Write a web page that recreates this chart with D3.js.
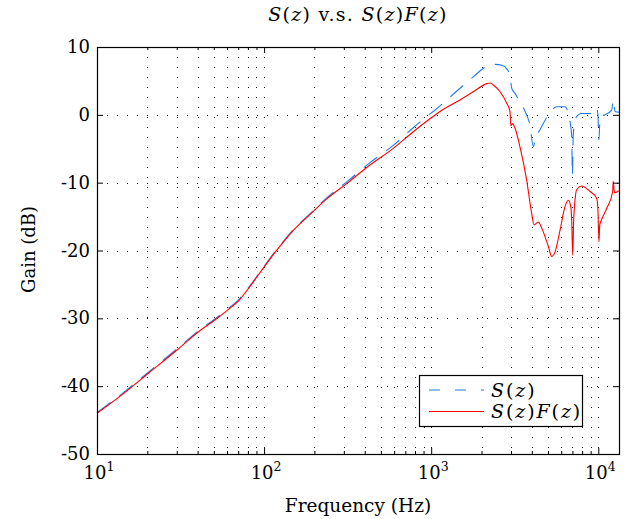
<!DOCTYPE html>
<html>
<head>
<meta charset="utf-8">
<script src="https://cdn.jsdelivr.net/npm/d3@7"></script>
<style>
  body { margin: 0; background: #fff; }
  svg { font-family: "DejaVu Serif", "Liberation Serif", serif; }
</style>
</head>
<body>
<svg></svg>
<script>
// S(z): frequency (Hz) and gain (dB)
const freqS = [10, 14.4, 20.3, 30, 41.4, 50.8, 59.7, 71.7, 82.3, 98.9, 113.5, 130, 150, 188, 237, 319, 430, 593, 781,
  961, 1029, 1239, 1452, 1786, 2099, 2354, 2652, 2850, 2966, 3035, 3166, 3396, 3724, 3900, 4085, 4200, 4480, 5025,
  5640, 6325, 6620, 6775, 6935, 7000, 7080, 7300, 7950, 9330, 9780, 9950, 10090, 10250, 10960, 12020, 12300, 12590, 13300];
const gainS = [-43.9, -40.95, -37.95, -34.55, -31.65, -30.1, -28.75, -27.05, -25.2, -22.5, -20.5, -18.7, -16.9, -14.6, -12.25, -9.7, -7.05, -4.5, -1.9,
  -0.05, 0.5, 2.2, 3.7, 5.6, 7.0, 7.45, 7.3, 6.7, 5.6, 3.9, 3.2, 1.9, 0.0, -1.5, -4.7, -3.5, -2.2, 0.0,
  1.2, 1.2, 0.2, -1.0, -3.2, -8.9, -3.0, -0.5, 0.2, 0.2, 1.0, 0.0, -3.7, -0.3, 0.0, 0.7, 2.2, 0.5, 0.4];

// S(z)F(z): frequency (Hz) and gain (dB)
const freqSF = [10, 14.4, 20.3, 30, 41.4, 50.8, 59.7, 71.7, 82.3, 98.9, 113.5, 130, 150, 188, 237, 319, 430, 593, 781,
  961, 1129, 1486, 1786, 2148, 2250, 2354, 2582, 2832, 2960, 3000, 3060, 3166, 3396, 3724, 3990, 4126, 4377, 4585,
  5025, 5260, 5510, 5905, 6325, 6620, 6840, 6930, 7030, 7120, 7190, 7430, 7950, 8920, 9780, 9950, 10090, 10200,
  10330, 11220, 12190, 12280, 12500, 13300];
const gainSF = [-44.0, -41.1, -38.1, -34.7, -31.8, -30.25, -28.9, -27.2, -25.3, -22.6, -20.6, -18.8, -17.0, -14.7, -12.4, -9.95, -7.4, -4.94, -2.49,
  -0.77, 0.5, 2.2, 3.4, 4.6, 4.7, 4.4, 3.4, 1.7, 0.5, -1.6, -1.3, -1.9, -4.7, -9.6, -14.5, -16.2, -15.8, -16.7,
  -19.4, -20.9, -20.2, -17.0, -13.5, -12.6, -13.5, -15.5, -20.7, -15.5, -13.8, -11.0, -10.5, -11.3, -12.3, -14.0, -18.7, -16.2,
  -15.8, -13.8, -11.3, -9.8, -11.5, -11.2];

const yTicks = [10, 0, -10, -20, -30, -40, -50];
const xDecades = [10, 100, 1000, 10000];
const xDecadeExp = ['1', '2', '3', '4'];
const seriesNames = ['S(z)', 'S(z)F(z)'];

const size = {w: 628, h: 519};
const plot = {l: 97, t: 47, w: 522, h: 407};
const svg = d3.select('svg').attr('width', size.w).attr('height', size.h);

const x = d3.scaleLog().domain([10, 13300]).range([plot.l, plot.l + plot.w]);
const y = d3.scaleLinear().domain([-50, 10]).range([plot.t + plot.h, plot.t]);

// minor log positions 20..90, 200..900, ...
let xMinor = [];
xDecades.forEach(d => {
    for (let k = 2; k <= 9; k++) {
        if (d * k <= 13300) xMinor.push(d * k);
    }
});

// italic letters, upright punctuation (TeX math look)
function mathText(sel, str) {
    str.match(/[A-Za-z]+|[^A-Za-z]+/g).forEach(part => {
        sel.append('tspan')
            .attr('font-style', /[A-Za-z]/.test(part) ? 'italic' : 'normal')
            .text(part);
    });
}

// grid
const gridG = svg.append('g')
    .attr('stroke', '#000')
    .attr('stroke-width', 1)
    .attr('stroke-dasharray', '1,9')
    .attr('shape-rendering', 'crispEdges');
gridG.selectAll('line.vx')
    .data(xDecades.concat(xMinor).filter(d => d > 10))
    .enter().append('line')
    .attr('x1', d => Math.round(x(d)) + 0.5).attr('x2', d => Math.round(x(d)) + 0.5)
    .attr('y1', plot.t).attr('y2', plot.t + plot.h);
gridG.selectAll('line.hy')
    .data(yTicks.filter(d => d > -50 && d < 10))
    .enter().append('line')
    .attr('y1', d => Math.round(y(d)) + 0.5).attr('y2', d => Math.round(y(d)) + 0.5)
    .attr('x1', plot.l).attr('x2', plot.l + plot.w);

// curves
const line = d3.line()
    .x(d => x(d[0]))
    .y(d => y(d[1]))
    .curve(d3.curveMonotoneX);

svg.append('path')
    .datum(d3.zip(freqS, gainS))
    .attr('fill', 'none')
    .attr('stroke', '#1f7bf2')
    .attr('stroke-width', 1.1)
    .attr('stroke-dasharray', '17,11')
    .attr('d', line);

svg.append('path')
    .datum(d3.zip(freqSF, gainSF))
    .attr('fill', 'none')
    .attr('stroke', '#ff0000')
    .attr('stroke-width', 1.1)
    .attr('d', line);

// axes (ticks pointing inward on all sides)
const axG = svg.append('g').attr('font-family', null);
function styleAxis(g) {
    g.select('.domain').remove();
    g.selectAll('line').attr('stroke', '#000');
    g.selectAll('text').remove();
}
axG.append('g').attr('transform', `translate(0,${plot.t + plot.h})`)
    .call(d3.axisBottom(x).tickValues(xDecades).tickSize(-6)).call(styleAxis);
axG.append('g').attr('transform', `translate(0,${plot.t + plot.h})`)
    .call(d3.axisBottom(x).tickValues(xMinor).tickSize(-3)).call(styleAxis);
axG.append('g').attr('transform', `translate(0,${plot.t})`)
    .call(d3.axisTop(x).tickValues(xDecades).tickSize(-6)).call(styleAxis);
axG.append('g').attr('transform', `translate(0,${plot.t})`)
    .call(d3.axisTop(x).tickValues(xMinor).tickSize(-3)).call(styleAxis);
axG.append('g').attr('transform', `translate(${plot.l},0)`)
    .call(d3.axisLeft(y).tickValues(yTicks).tickSize(-6)).call(styleAxis);
axG.append('g').attr('transform', `translate(${plot.l + plot.w},0)`)
    .call(d3.axisRight(y).tickValues(yTicks).tickSize(-6)).call(styleAxis);

// box
svg.append('rect')
    .attr('x', plot.l + 0.5).attr('y', plot.t + 0.5)
    .attr('width', plot.w).attr('height', plot.h)
    .attr('fill', 'none').attr('stroke', '#000').attr('stroke-width', 1.2);

// tick labels
svg.selectAll('text.ylab')
    .data(yTicks)
    .enter().append('text')
    .attr('x', plot.l - 7)
    .attr('y', d => y(d) + 6)
    .attr('text-anchor', 'end')
    .attr('font-size', 18)
    .text(d => d);

const xl = svg.selectAll('text.xlab')
    .data(xDecades)
    .enter().append('text')
    .attr('x', d => x(d) + 2)
    .attr('y', 479)
    .attr('text-anchor', 'middle')
    .attr('font-size', 18);
xl.append('tspan').text('10');
xl.append('tspan').attr('font-size', 12.5).attr('dy', -8).text((d, i) => xDecadeExp[i]);

// axis titles
svg.append('text')
    .attr('x', plot.l + plot.w / 2).attr('y', 512)
    .attr('text-anchor', 'middle').attr('font-size', 18.5)
    .text('Frequency (Hz)');
svg.append('text')
    .attr('transform', `translate(35,${plot.t + plot.h / 2 - 1}) rotate(-90)`)
    .attr('text-anchor', 'middle').attr('font-size', 18)
    .text('Gain (dB)');

// title
const title = svg.append('text')
    .attr('x', plot.l + plot.w / 2).attr('y', 21)
    .attr('text-anchor', 'middle').attr('font-size', 19)
    .attr('letter-spacing', 1.3);
mathText(title, seriesNames[0]);
title.append('tspan').attr('font-style', 'normal').text(' v.s. ');
mathText(title, seriesNames[1]);

// legend
const leg = {x: 419, y: 375, w: 163, h: 51};
const legG = svg.append('g');
legG.append('rect')
    .attr('x', leg.x + 0.5).attr('y', leg.y + 0.5)
    .attr('width', leg.w).attr('height', leg.h)
    .attr('fill', '#fff').attr('stroke', '#000').attr('stroke-width', 1.2);
const legStyles = [{c: '#1f7bf2', dash: '11,15'}, {c: '#ff0000', dash: null}];
seriesNames.forEach((name, i) => {
    const ly = leg.y + 15 + i * 21.5;
    legG.append('line')
        .attr('x1', leg.x + 10).attr('x2', leg.x + 65)
        .attr('y1', ly).attr('y2', ly)
        .attr('stroke', legStyles[i].c).attr('stroke-width', 1.1)
        .attr('stroke-dasharray', legStyles[i].dash);
    const t = legG.append('text')
        .attr('x', leg.x + 72).attr('y', ly + 6.5)
        .attr('font-size', 19)
        .attr('letter-spacing', 1.9);
    mathText(t, name);
});
</script>
</body>
</html>
